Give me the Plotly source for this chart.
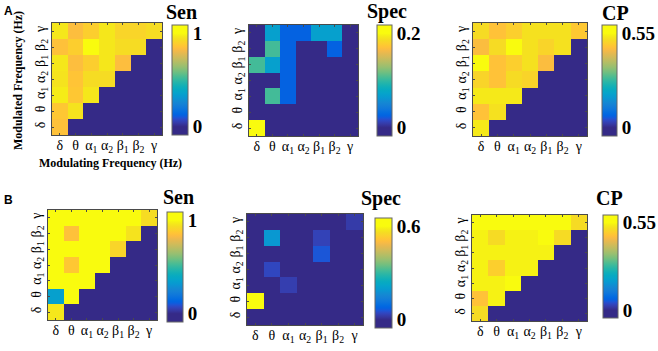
import plotly.graph_objects as go

# ---------------- data ----------------
bands = ["δ", "θ", "α<sub>1</sub>", "α<sub>2</sub>", "β<sub>1</sub>", "β<sub>2</sub>", "γ"]

# rows = modulated band (bottom δ -> top γ), columns = modulating band (δ -> γ)
sen_a = [
    [0.85, 0, 0, 0, 0, 0, 0],
    [0.87, 0.95, 0, 0, 0, 0, 0],
    [0.97, 0.87, 0.96, 0, 0, 0, 0],
    [0.95, 0.86, 0.93, 0.93, 0, 0, 0],
    [0.96, 0.84, 0.89, 0.96, 0.84, 0, 0],
    [0.85, 0.89, 1.00, 0.96, 0.93, 0.93, 0],
    [0.96, 0.84, 0.89, 0.96, 0.91, 0.91, 0.93],
]
spec_a = [
    [0.20, 0, 0, 0, 0, 0, 0],
    [0, 0, 0, 0, 0, 0, 0],
    [0, 0.105, 0.025, 0, 0, 0, 0],
    [0, 0, 0.025, 0, 0, 0, 0],
    [0.105, 0.07, 0.025, 0, 0, 0, 0],
    [0, 0.105, 0.025, 0, 0, 0.025, 0],
    [0, 0.07, 0.025, 0.025, 0.07, 0.07, 0],
]
cp_a = [
    [0.53, 0, 0, 0, 0, 0, 0],
    [0.47, 0.52, 0, 0, 0, 0, 0],
    [0.53, 0.53, 0.53, 0, 0, 0, 0],
    [0.50, 0.47, 0.51, 0.50, 0, 0, 0],
    [0.55, 0.47, 0.49, 0.52, 0.46, 0, 0],
    [0.46, 0.51, 0.55, 0.52, 0.50, 0.52, 0],
    [0.51, 0.47, 0.49, 0.52, 0.52, 0.52, 0.48],
]
sen_b = [
    [0.96, 0, 0, 0, 0, 0, 0],
    [0.35, 1.00, 0, 0, 0, 0, 0],
    [1.00, 1.00, 1.00, 0, 0, 0, 0],
    [1.00, 0.87, 1.00, 1.00, 0, 0, 0],
    [1.00, 1.00, 1.00, 1.00, 0.91, 0, 0],
    [1.00, 0.85, 1.00, 1.00, 1.00, 0.95, 0],
    [1.00, 1.00, 1.00, 1.00, 1.00, 1.00, 0.93],
]
spec_b = [
    [0, 0, 0, 0, 0, 0, 0],
    [0.60, 0, 0, 0, 0, 0, 0],
    [0, 0, 0.03, 0, 0, 0, 0],
    [0, 0.042, 0, 0, 0, 0, 0],
    [0, 0, 0, 0, 0.06, 0, 0],
    [0, 0.19, 0, 0, 0.036, 0, 0],
    [0, 0, 0, 0, 0, 0, 0.025],
]
cp_b = [
    [0.51, 0, 0, 0, 0, 0, 0],
    [0.47, 0.54, 0, 0, 0, 0, 0],
    [0.54, 0.54, 0.55, 0, 0, 0, 0],
    [0.54, 0.49, 0.54, 0.54, 0, 0, 0],
    [0.54, 0.54, 0.54, 0.54, 0.54, 0, 0],
    [0.54, 0.51, 0.54, 0.54, 0.55, 0.51, 0],
    [0.55, 0.55, 0.55, 0.55, 0.55, 0.55, 0.51],
]

panel_titles = ["Sen", "Spec", "CP", "Sen", "Spec", "CP"]
panel_data = [sen_a, spec_a, cp_a, sen_b, spec_b, cp_b]
color_max = [1, 0.2, 0.55, 1, 0.6, 0.55]
colorbar_ticks = [["0", "1"], ["0", "0.2"], ["0", "0.55"], ["0", "1"], ["0", "0.6"], ["0", "0.55"]]
row_letters = ["A", "B"]
x_title = "Modulating Frequency (Hz)"
y_title = "Modulated Frequency (Hz)"

# ---------------- style ----------------
parula_rgb = [
    [0.2081, 0.1663, 0.5292], [0.2116, 0.1898, 0.5777], [0.2123, 0.2138, 0.6270], [0.2081, 0.2386, 0.6771],
    [0.1959, 0.2645, 0.7279], [0.1707, 0.2919, 0.7792], [0.1253, 0.3242, 0.8303], [0.0591, 0.3598, 0.8683],
    [0.0117, 0.3875, 0.8820], [0.0060, 0.4086, 0.8828], [0.0165, 0.4266, 0.8786], [0.0329, 0.4430, 0.8720],
    [0.0498, 0.4586, 0.8641], [0.0629, 0.4737, 0.8554], [0.0723, 0.4887, 0.8467], [0.0779, 0.5040, 0.8384],
    [0.0793, 0.5200, 0.8312], [0.0749, 0.5375, 0.8263], [0.0641, 0.5570, 0.8240], [0.0488, 0.5772, 0.8228],
    [0.0343, 0.5966, 0.8199], [0.0265, 0.6137, 0.8135], [0.0239, 0.6287, 0.8038], [0.0231, 0.6418, 0.7913],
    [0.0228, 0.6535, 0.7768], [0.0267, 0.6642, 0.7607], [0.0384, 0.6743, 0.7436], [0.0590, 0.6838, 0.7254],
    [0.0843, 0.6928, 0.7062], [0.1133, 0.7015, 0.6859], [0.1453, 0.7098, 0.6646], [0.1801, 0.7177, 0.6424],
    [0.2178, 0.7250, 0.6193], [0.2586, 0.7317, 0.5954], [0.3022, 0.7376, 0.5712], [0.3482, 0.7424, 0.5473],
    [0.3953, 0.7459, 0.5244], [0.4420, 0.7481, 0.5033], [0.4871, 0.7491, 0.4840], [0.5300, 0.7491, 0.4661],
    [0.5709, 0.7485, 0.4494], [0.6099, 0.7473, 0.4337], [0.6473, 0.7456, 0.4188], [0.6834, 0.7435, 0.4044],
    [0.7184, 0.7411, 0.3905], [0.7525, 0.7384, 0.3768], [0.7858, 0.7356, 0.3633], [0.8185, 0.7327, 0.3498],
    [0.8507, 0.7299, 0.3360], [0.8824, 0.7274, 0.3217], [0.9139, 0.7258, 0.3063], [0.9450, 0.7261, 0.2886],
    [0.9739, 0.7314, 0.2666], [0.9938, 0.7455, 0.2403], [0.9990, 0.7653, 0.2164], [0.9955, 0.7861, 0.1967],
    [0.9880, 0.8066, 0.1794], [0.9789, 0.8271, 0.1633], [0.9697, 0.8481, 0.1475], [0.9626, 0.8705, 0.1309],
    [0.9589, 0.8949, 0.1132], [0.9598, 0.9218, 0.0948], [0.9661, 0.9514, 0.0755], [0.9763, 0.9831, 0.0538],
]
# colorbar end caps (fraction of the bar) so that the 0 / max tick labels sit inside the bar, MATLAB-like
END_FRAC = 0.075
n = len(parula_rgb)
cols = ["rgb(%d,%d,%d)" % tuple(round(c * 255) for c in rgb) for rgb in parula_rgb]
parula = [[0.0, cols[0]]]
for i, c in enumerate(cols):
    parula.append([END_FRAC + (1 - 2 * END_FRAC) * i / (n - 1), c])
parula.append([1.0, cols[-1]])

W, H = 658, 351
def px(x): return x / W
def py(y): return 1 - y / H

# heatmap boxes (left, right, top, bottom) in pixels
boxes = [
    (52, 162, 23, 135), (249, 358, 25, 136), (473, 587, 23, 136),
    (48, 157, 210, 320), (247, 363, 214, 325), (472, 587, 215, 321),
]
# colorbars (left, top, bottom, thickness)
cbars = [
    (172, 25, 135, 16), (377, 25, 136, 15), (602, 25, 136, 15),
    (167, 212, 322, 16), (375, 218, 328, 17), (603, 215, 318, 15),
]
title_pos = [(181, 12), (387, 12), (615, 13), (178, 197), (381, 198), (609, 198)]

serif = "Liberation Serif"
axis_font = dict(family=serif, size=14, color="black")

fig = go.Figure()
layout = dict(
    width=W, height=H, margin=dict(l=0, r=0, t=0, b=0, autoexpand=False),
    paper_bgcolor="white", plot_bgcolor="white", showlegend=False,
)
annotations = []
for i in range(6):
    k = "" if i == 0 else str(i + 1)
    fig.add_trace(go.Heatmap(
        z=panel_data[i], x=bands, y=bands,
        xaxis="x" + k, yaxis="y" + k, coloraxis="coloraxis" + k,
    ))
    l, r, t, b = boxes[i]
    common = dict(
        type="category", tickmode="array", tickvals=bands, ticktext=bands,
        showline=True, mirror="ticks", linecolor="#4a4a4a", linewidth=1,
        ticks="inside", ticklen=2, tickcolor="#4a4a4a", showgrid=False, zeroline=False,
        tickfont=axis_font, fixedrange=True,
    )
    layout["xaxis" + k] = dict(domain=[px(l), px(r)], anchor="y" + k, ticklabelstandoff=-3, **common)
    layout["yaxis" + k] = dict(domain=[py(b), py(t)], anchor="x" + k, tickangle=-90, **common)
    cl, ct, cb, th = cbars[i]
    pad = END_FRAC * color_max[i] / (1 - 2 * END_FRAC)
    layout["coloraxis" + k] = dict(
        cmin=-pad, cmax=color_max[i] + pad, colorscale=parula,
        colorbar=dict(
            x=px(cl), xanchor="left", y=py((ct + cb) / 2), yanchor="middle",
            len=(cb - ct) / H, lenmode="fraction", thickness=th, thicknessmode="pixels",
            xpad=0, ypad=0, outlinewidth=1, outlinecolor="#666666",
            tickvals=[0, color_max[i]], ticktext=colorbar_ticks[i], ticks="",
            tickfont=dict(family=serif, size=19, color="black", weight="bold"),
        ),
    )
    tx, ty = title_pos[i]
    annotations.append(dict(
        text=panel_titles[i], x=px(tx), y=py(ty), xref="paper", yref="paper",
        xanchor="center", yanchor="middle", showarrow=False,
        font=dict(family=serif, size=20, color="black", weight="bold"),
    ))

sans_bold = dict(family="Liberation Sans", size=12, color="black", weight="bold")
annotations.append(dict(text=row_letters[0], x=px(8), y=py(11), xref="paper", yref="paper",
                        xanchor="center", yanchor="middle", showarrow=False, font=sans_bold))
annotations.append(dict(text=row_letters[1], x=px(8), y=py(200), xref="paper", yref="paper",
                        xanchor="center", yanchor="middle", showarrow=False, font=sans_bold))
annotations.append(dict(text=x_title, x=px(110), y=py(163), xref="paper", yref="paper",
                        xanchor="center", yanchor="middle", showarrow=False,
                        font=dict(family=serif, size=12, color="black", weight="bold")))
annotations.append(dict(text=y_title, x=px(18), y=py(81), xref="paper", yref="paper",
                        xanchor="center", yanchor="middle", showarrow=False, textangle=-90,
                        font=dict(family=serif, size=12, color="black", weight="bold")))
layout["annotations"] = annotations
fig.update_layout(**layout)
# remove the browser's default 8px body margin so the figure starts at the page corner
fig.write_html("out.html", config={"displayModeBar": False},
               post_script="document.body.style.margin='0';")
